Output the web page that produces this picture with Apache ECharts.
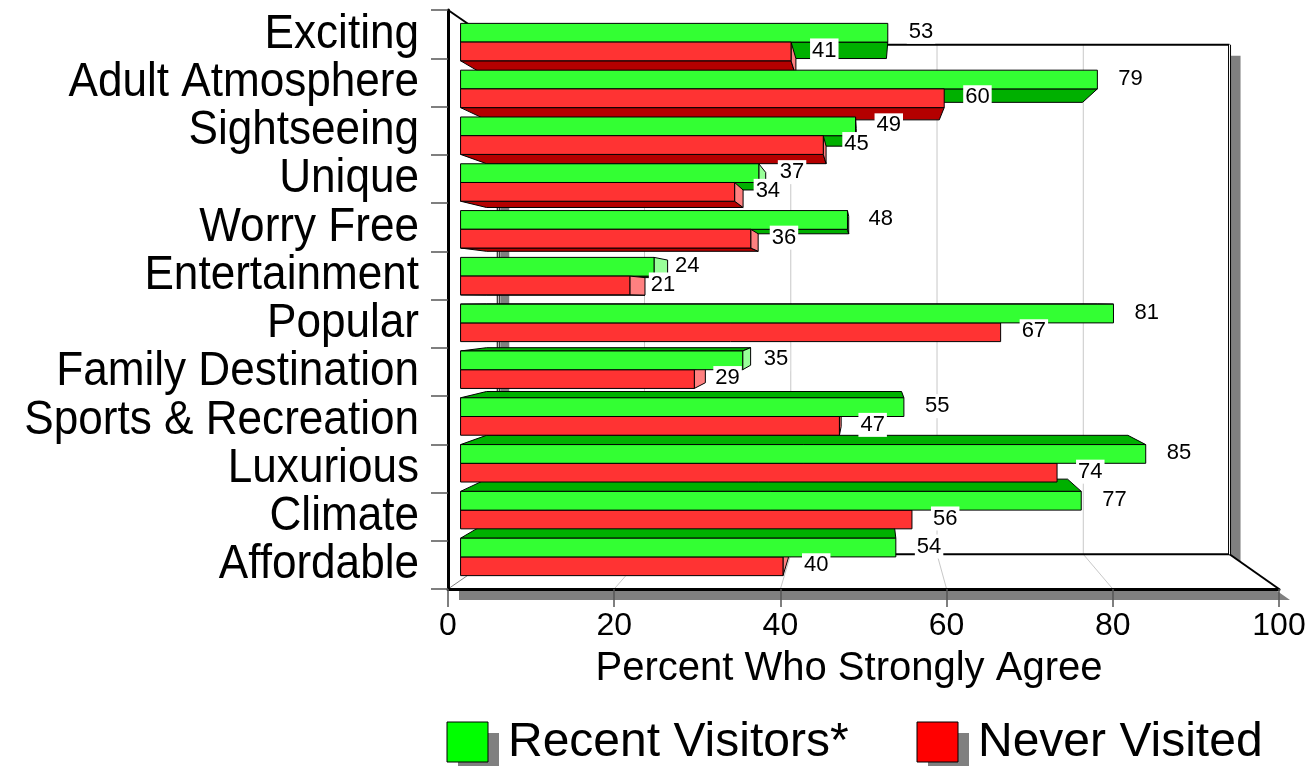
<!DOCTYPE html>
<html>
<head>
<meta charset="utf-8">
<script src="https://cdn.jsdelivr.net/npm/echarts@6/dist/echarts.min.js"></script>
<style>
  html, body { margin: 0; padding: 0; background: #fff; }
  #chart { width: 1312px; height: 766px; }
</style>
</head>
<body>
<div id="chart"></div>
<script>
const categories = ['Exciting', 'Adult Atmosphere', 'Sightseeing', 'Unique', 'Worry Free', 'Entertainment',
  'Popular', 'Family Destination', 'Sports & Recreation', 'Luxurious', 'Climate', 'Affordable'];
const recentVisitors = [53, 79, 49, 37, 48, 24, 81, 35, 55, 85, 77, 54];
const neverVisited = [41, 60, 45, 34, 36, 21, 67, 29, 47, 74, 56, 40];
const xTicks = [0, 20, 40, 60, 80, 100];
const seriesNames = ['Recent Visitors*', 'Never Visited'];

const FONT = "'Liberation Sans', Arial, Helvetica, sans-serif";

// Depth planes of the pseudo-3D box (1 = front plane where the axes sit)
const BAR_FRONT = 0.97;
const BAR_BACK = 0.908;
const WALL = 0.88;
const SHADOW = 11;

const palette = [
  { front: '#33ff33', depth: '#00b000', end: '#99ff99', key: '#00ff00' },
  { front: '#ff3333', depth: '#b40000', end: '#ff8080', key: '#ff0000' }
];

function vanish(cs) {
  return [cs.x + cs.width * 0.504, cs.y + cs.height / 2];
}
function proj(V, x, y, s) {
  return [V[0] + s * (x - V[0]), V[1] + s * (y - V[1])];
}

// One box per value: front face, the visible top/bottom face and the end cap.
function barRenderer(k) {
  return function (params, api) {
    const cs = params.coordSys;
    const V = vanish(cs);
    const i = api.value(1);
    const v = api.value(0);
    const c0 = api.coord([0, i]);
    const c1 = api.coord([v, i]);
    const bh = api.size([0, 1])[1] * 0.4;
    const yTop = k === 0 ? c0[1] - bh : c0[1];
    const yBot = yTop + bh;
    const x0 = c0[0], x1 = c1[0];
    const F = (x, y) => proj(V, x, y, BAR_FRONT);
    const B = (x, y) => proj(V, x, y, BAR_BACK);
    // boxes farther from the horizon are painted first
    const base = (2000 - Math.abs((yTop + yBot) / 2 - V[1])) * 10;
    const col = palette[k];
    const edge = { stroke: '#000', lineWidth: 1 };
    const children = [];
    if (yBot < V[1]) {
      children.push({ type: 'polygon', z2: base, shape: { points: [F(x0, yBot), F(x1, yBot), B(x1, yBot), B(x0, yBot)] },
        style: Object.assign({ fill: col.depth }, edge) });
    }
    if (yTop > V[1]) {
      children.push({ type: 'polygon', z2: base, shape: { points: [F(x0, yTop), F(x1, yTop), B(x1, yTop), B(x0, yTop)] },
        style: Object.assign({ fill: col.depth }, edge) });
    }
    if (x1 < V[0]) {
      children.push({ type: 'polygon', z2: base + 1, shape: { points: [F(x1, yTop), B(x1, yTop), B(x1, yBot), F(x1, yBot)] },
        style: Object.assign({ fill: col.end }, edge) });
    }
    children.push({ type: 'polygon', z2: base + 2, shape: { points: [F(x0, yTop), F(x1, yTop), F(x1, yBot), F(x0, yBot)] },
      style: Object.assign({ fill: col.front }, edge) });
    const lp = F(x1, (yTop + yBot) / 2);
    children.push({ type: 'text', z2: 1e6, x: lp[0] + 19, y: lp[1] - 1,
      style: { text: String(v), fill: '#000', fontSize: 22, fontFamily: FONT, align: 'left', verticalAlign: 'middle',
        backgroundColor: '#fff', padding: [1, 2] } });
    return { type: 'group', children: children };
  };
}

// Category names, set in a narrow cut to the left of the axis.
function categoryLabelRenderer(params, api) {
  const i = api.value(1);
  const c = api.coord([0, i]);
  return { type: 'text', x: c[0] - 29, y: c[1], scaleX: 0.9,
    style: { text: categories[i], fill: '#000', fontSize: 49, fontFamily: FONT, align: 'right', verticalAlign: 'middle' } };
}

// Back wall, floor, side wall, their drop shadow and the receding grid lines.
function frameRenderer(params, api) {
  const cs = params.coordSys;
  const V = vanish(cs);
  const L = cs.x, R = cs.x + cs.width, T = cs.y, Bm = cs.y + cs.height;
  const W = (x, y) => proj(V, x, y, WALL);
  const A = [L, T], Bk = W(L, T), C = W(R, T), D = W(R, Bm), E = [R, Bm], Fp = [L, Bm], G = W(L, Bm);
  const outline = [A, Bk, C, D, E, Fp];
  const shifted = outline.map(p => [p[0] + SHADOW, p[1] + SHADOW]);
  const line = (p, q, color, width) => ({ type: 'line', shape: { x1: p[0], y1: p[1], x2: q[0], y2: q[1] },
    style: { stroke: color, lineWidth: width } });
  const children = [
    { type: 'polygon', shape: { points: shifted }, style: { fill: '#808080' } },
    { type: 'polygon', shape: { points: outline }, style: { fill: '#fff' } },
    { type: 'rect', shape: { x: Bk[0] + 2, y: Bk[1] + SHADOW, width: 9, height: G[1] - Bk[1] - SHADOW }, style: { fill: '#808080' } }
  ];
  xTicks.forEach(t => {
    if (t === xTicks[0] || t === xTicks[xTicks.length - 1]) return;
    const xf = api.coord([t, 0])[0];
    children.push(line([xf, Bm], W(xf, Bm), '#c8c8c8', 1));
    children.push(line(W(xf, Bm), W(xf, T), '#c8c8c8', 1));
  });
  children.push(line(Fp, G, '#808080', 1));
  children.push(line(A, Bk, '#000', 2));
  children.push(line(Bk, C, '#000', 2));
  children.push(line(G, D, '#000', 2));
  children.push(line(D, E, '#000', 2));
  children.push(line(C, D, '#000', 3));
  children.push(line(C, D, '#fff', 1));
  children.push(line(Bk, G, '#000', 3));
  children.push(line(Bk, G, '#fff', 1));
  return { type: 'group', children: children };
}

// Legend keys with their offset drop shadows
const legendKeys = [];
const legendX = [447, 917];
seriesNames.forEach((name, k) => {
  const x = legendX[k], y = 722;
  legendKeys.push({ type: 'rect', x: x + SHADOW, y: y + SHADOW, shape: { width: 41, height: 40 }, style: { fill: '#808080' } });
  legendKeys.push({ type: 'rect', x: x, y: y, shape: { width: 41, height: 40 }, style: { fill: palette[k].key, stroke: '#000', lineWidth: 1 } });
  legendKeys.push({ type: 'text', x: x + 61, y: y + 21,
    style: { text: name, fill: '#000', fontSize: 48, fontFamily: FONT, align: 'left', verticalAlign: 'middle' } });
});

const chart = echarts.init(document.getElementById('chart'), null, { renderer: 'canvas' });
chart.setOption({
  animation: false,
  backgroundColor: '#fff',
  grid: { left: 448, top: 10, width: 831, height: 579, containLabel: false, outerBoundsMode: 'none' },
  xAxis: {
    type: 'value', min: 0, max: 100, interval: 20, z: 3,
    axisLine: { show: true, lineStyle: { color: '#000', width: 3 } },
    axisTick: { show: true, length: 18, lineStyle: { color: '#555', width: 1.5 } },
    axisLabel: { fontSize: 32, color: '#000', margin: 21, fontFamily: FONT },
    splitLine: { show: false },
    name: 'Percent Who Strongly Agree', nameLocation: 'middle', nameGap: 80,
    nameTextStyle: { fontSize: 40, color: '#000', fontFamily: FONT, verticalAlign: 'middle', padding: [0, 29, 0, 0] }
  },
  yAxis: {
    type: 'category', data: categories, inverse: true, z: 3,
    axisLine: { show: true, lineStyle: { color: '#000', width: 3 } },
    axisTick: { show: true, length: 17, lineStyle: { color: '#555', width: 1.5 } },
    axisLabel: { show: false },
    splitLine: { show: false }
  },
  graphic: { elements: legendKeys },
  series: [
    { type: 'custom', name: 'frame', z: 1, silent: true, renderItem: frameRenderer, data: [[0, 0]], encode: { x: 0, y: 1 } },
    { type: 'custom', name: 'categoryLabels', z: 3, silent: true, renderItem: categoryLabelRenderer,
      data: categories.map((c, i) => [0, i]), encode: { x: 0, y: 1 } },
    { type: 'custom', name: seriesNames[0], z: 2, renderItem: barRenderer(0), itemStyle: { color: palette[0].front },
      data: recentVisitors.map((v, i) => [v, i]), encode: { x: 0, y: 1 } },
    { type: 'custom', name: seriesNames[1], z: 2, renderItem: barRenderer(1), itemStyle: { color: palette[1].front },
      data: neverVisited.map((v, i) => [v, i]), encode: { x: 0, y: 1 } }
  ]
});
</script>
</body>
</html>
